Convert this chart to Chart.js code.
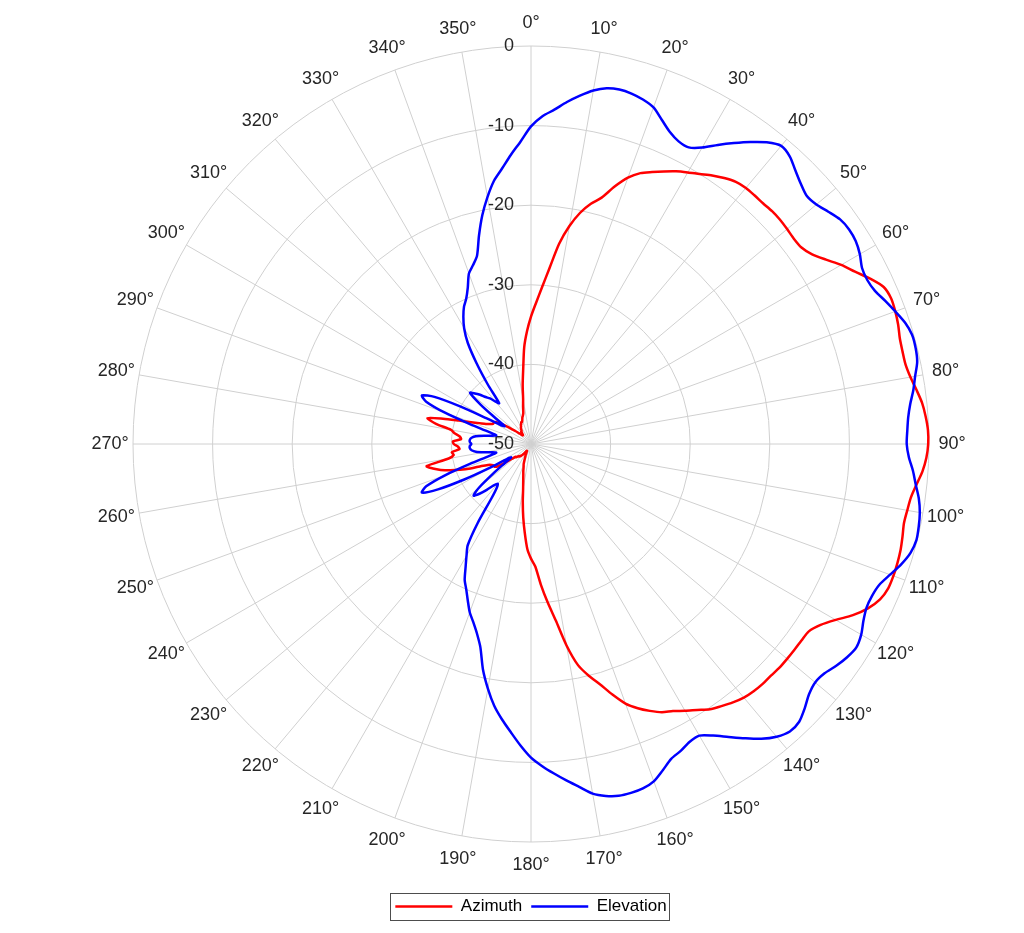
<!DOCTYPE html>
<html>
<head>
<meta charset="utf-8">
<script src="https://cdn.jsdelivr.net/npm/chart.js@4.4.1/dist/chart.umd.min.js"></script>
<style>
html,body{margin:0;padding:0;background:#ffffff;}
#c{display:block;}
</style>
</head>
<body>
<canvas id="c" width="1024" height="933"></canvas>
<script>
// ---- categories: angle (degrees), 2 degree steps, 0..358 ----
const angleStep = 2;
const angles = Array.from({length: 180}, (_, i) => i * angleStep);

// ---- angle tick labels every 10 degrees ----
const angleTickLabels = ['0°','10°','20°','30°','40°','50°','60°','70°','80°','90°',
  '100°','110°','120°','130°','140°','150°','160°','170°','180°','190°',
  '200°','210°','220°','230°','240°','250°','260°','270°','280°','290°',
  '300°','310°','320°','330°','340°','350°'];

// ---- radial tick labels (dB) ----
const radialTicks = [0, -10, -20, -30, -40, -50];

// ---- Azimuth (red), dB at angles 0,2,...,358 ----
const azimuth = [
  -34.0,-32.3,-30.3,-27.8,-24.6,-22.2,-20.3,-18.9,-17.8,-16.0,
  -14.4,-13.3,-12.6,-11.9,-11.2,-10.6,-10.0,-9.3,-8.7,-8.2,
  -8.0,-8.0,-8.0,-7.9,-7.9,-8.0,-8.1,-8.0,-7.4,-6.3,
  -5.0,-3.9,-2.6,-1.5,-1.2,-1.3,-1.5,-1.8,-1.9,-1.9,
  -1.6,-1.1,-0.6,-0.3,-0.1,-0.1,-0.3,-0.7,-1.3,-1.8,
  -2.0,-2.1,-1.9,-1.7,-1.6,-1.55,-1.6,-2.0,-2.9,-4.2,
  -5.8,-7.1,-7.9,-8.0,-8.0,-8.0,-8.0,-8.1,-8.1,-8.2,
  -8.4,-8.8,-9.3,-9.8,-10.6,-11.3,-12.0,-12.5,-13.3,-14.2,
  -15.3,-16.9,-18.6,-20.0,-21.6,-24.3,-27.6,-30.0,-32.3,-34.6,
  -35.6,-36.8,-38.8,-40.7,-42.6,-44.3,-45.3,-46.0,-46.5,-47.0,
  -47.3,-47.8,-48.2,-48.5,-48.8,-49.0,-49.0,-48.8,-48.5,-48.3,
  -48.0,-48.0,-47.8,-47.8,-47.5,-47.5,-47.0,-46.0,-45.0,-44.6,
  -44.6,-44.4,-44.0,-43.2,-41.8,-40.5,-39.3,-38.2,-37.3,-36.6,
  -39.5,-40.2,-40.0,-41.0,-40.8,-40.3,-40.2,-41.2,-41.0,-40.3,
  -39.8,-37.8,-36.6,-38.5,-40.5,-42.0,-43.0,-43.8,-44.3,-44.6,
  -44.6,-44.8,-45.5,-46.3,-47.0,-47.5,-48.0,-48.2,-48.5,-48.5,
  -48.3,-48.0,-48.0,-47.8,-47.6,-47.5,-47.3,-47.2,-47.0,-47.0,
  -46.8,-46.5,-46.3,-46.0,-45.2,-44.3,-42.5,-40.6,-37.8,-35.8
];

// ---- Elevation (blue), dB at angles 0,2,...,358 ----
const elevation = [
  -10.1,-8.8,-7.9,-6.8,-5.8,-4.9,-4.3,-4.1,-4.2,-4.5,
  -5.0,-6.1,-7.1,-7.7,-7.8,-7.0,-5.7,-4.4,-3.1,-1.9,
  -1.1,-1.4,-2.2,-2.9,-3.4,-3.2,-2.6,-2.0,-1.8,-1.9,
  -2.3,-2.9,-3.0,-2.7,-2.0,-1.3,-0.6,-0.2,-0.2,-0.4,
  -1.0,-1.5,-2.1,-2.5,-2.7,-2.8,-2.5,-1.9,-1.4,-0.8,
  -0.4,-0.2,-0.1,-0.4,-1.1,-2.0,-2.8,-3.1,-3.1,-2.7,
  -2.1,-1.8,-2.1,-2.6,-3.2,-3.4,-3.0,-2.2,-1.5,-1.4,
  -2.0,-3.0,-4.3,-5.6,-6.8,-7.7,-7.6,-7.1,-6.7,-5.8,
  -4.9,-4.5,-4.4,-4.45,-4.8,-5.4,-6.5,-7.5,-8.5,-9.5,
  -10.6,-12.1,-13.7,-15.2,-16.8,-18.8,-21.0,-23.7,-25.3,-26.5,
  -27.5,-28.8,-30.0,-31.0,-32.5,-33.8,-35.0,-38.0,-41.5,-43.0,
  -43.5,-43.0,-42.0,-41.0,-40.3,-41.5,-44.0,-46.0,-47.0,-46.5,
  -44.0,-40.5,-37.0,-35.0,-35.8,-38.5,-42.0,-44.5,-45.5,-45.0,
  -44.0,-43.0,-42.5,-42.3,-42.3,-42.5,-42.3,-42.3,-42.5,-43.0,
  -44.0,-45.0,-45.5,-44.5,-42.0,-38.5,-35.8,-35.0,-36.5,-40.0,
  -43.5,-45.5,-46.0,-44.5,-42.0,-40.0,-40.5,-41.1,-41.8,-42.3,
  -43.0,-43.5,-40.8,-37.8,-35.0,-33.2,-31.9,-30.8,-30.0,-28.8,
  -27.2,-26.4,-25.4,-23.0,-20.6,-18.5,-16.6,-15.2,-13.6,-12.0
];

const FONT = "'Liberation Sans', Arial, Helvetica, sans-serif";
const TEXT_COLOR = '#262626';
const GRID_COLOR = '#d0d0d0';

// angle labels (centered outside the outer circle) and radial tick labels
const polarLabels = {
  id: 'polarLabels',
  beforeDatasetsDraw(chart) {
    const s = chart.scales.r;
    const ctx = chart.ctx;
    ctx.save();
    ctx.fillStyle = TEXT_COLOR;
    ctx.font = '18px ' + FONT;
    ctx.textAlign = 'right';
    ctx.textBaseline = 'middle';
    radialTicks.forEach(v => {
      const d = s.getDistanceFromCenterForValue(v);
      ctx.fillText(String(v), s.xCenter - 17, s.yCenter - d);
    });
    ctx.restore();
  },
  afterDraw(chart) {
    const s = chart.scales.r;
    const ctx = chart.ctx;
    ctx.save();
    ctx.fillStyle = TEXT_COLOR;
    ctx.font = '18px ' + FONT;
    ctx.textAlign = 'center';
    ctx.textBaseline = 'middle';
    angleTickLabels.forEach((t, k) => {
      const idx = k * (10 / angleStep);
      const p = s.getPointPosition(idx, s.drawingArea + 23);
      ctx.fillText(t, p.x, p.y);
    });
    // legend frame
    const lg = chart.legend;
    if (lg && lg.legendHitBoxes && lg.legendHitBoxes.length) {
      let l = Infinity, r = -Infinity, cy = 0;
      lg.legendHitBoxes.forEach(h => {
        l = Math.min(l, h.left);
        r = Math.max(r, h.left + h.width);
        cy = h.top + h.height / 2;
      });
      ctx.strokeStyle = '#4d4d4d';
      ctx.lineWidth = 1;
      ctx.strokeRect(Math.round(l - 5) + 0.5, Math.round(cy - 14) + 0.5, Math.round(r - l + 8), 27);
    }
    ctx.restore();
  }
};

new Chart(document.getElementById('c'), {
  type: 'radar',
  data: {
    labels: angles,
    datasets: [
      {
        label: 'Azimuth',
        data: azimuth,
        borderColor: '#ff0000',
        backgroundColor: '#ff0000',
        borderWidth: 2.5,
        pointRadius: 0,
        pointHoverRadius: 0,
        fill: false,
        tension: 0.25,
        order: 2
      },
      {
        label: 'Elevation',
        data: elevation,
        borderColor: '#0000ff',
        backgroundColor: '#0000ff',
        borderWidth: 2.5,
        pointRadius: 0,
        pointHoverRadius: 0,
        fill: false,
        tension: 0.25,
        order: 1
      }
    ]
  },
  options: {
    responsive: false,
    animation: false,
    devicePixelRatio: 1,
    layout: { padding: { left: 133, right: 95, top: -9, bottom: 8 } },
    font: { family: FONT },
    elements: { line: { capBezierPoints: false } },
    scales: {
      r: {
        min: -50,
        max: 0,
        startAngle: 0,
        ticks: { display: false, stepSize: 10 },
        grid: { circular: true, color: GRID_COLOR, lineWidth: 1 },
        angleLines: {
          display: true,
          lineWidth: 1,
          color: (c) => (c.index % (10 / angleStep) === 0 ? GRID_COLOR : 'rgba(0,0,0,0)')
        },
        pointLabels: { display: false }
      }
    },
    plugins: {
      tooltip: { enabled: false },
      legend: {
        display: true,
        position: 'bottom',
        labels: {
          usePointStyle: true,
          pointStyle: 'line',
          pointStyleWidth: 57,
          padding: 9,
          color: '#000000',
          font: { size: 17, family: FONT },
          sort: (a, b) => a.datasetIndex - b.datasetIndex
        }
      }
    }
  },
  plugins: [polarLabels]
});
</script>
</body>
</html>
